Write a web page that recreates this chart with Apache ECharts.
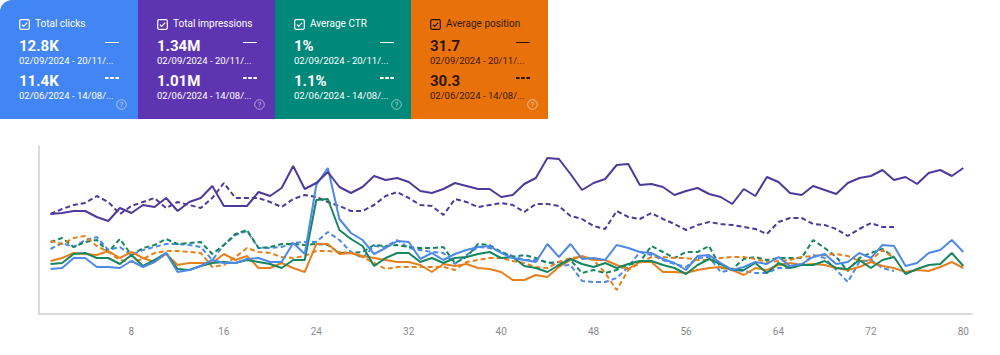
<!DOCTYPE html>
<html><head><meta charset="utf-8">
<script src="https://cdn.jsdelivr.net/npm/echarts@6/dist/echarts.min.js"></script>
<style>
html,body{margin:0;padding:0;width:1000px;height:355px;background:#fff;overflow:hidden;font-family:Roboto,"Noto Sans",sans-serif;}
#chart{position:absolute;left:0;top:0;width:1000px;height:355px;}
.card{position:absolute;top:0;height:119px;color:#fff;}
.card.dark{color:rgba(0,0,0,0.82);}
.card > *{position:absolute;white-space:nowrap;}
.cb{left:19px;top:19px;width:11px;height:11px;}
.lbl{left:35px;top:18px;font-size:10px;line-height:12px;}
.v{left:19px;font-size:15px;line-height:16px;font-weight:700;}
.v1{top:37.5px;} .v2{top:72.5px;}
.d{left:19px;font-size:9.5px;line-height:11px;}
.d1{top:55.2px;} .d2{top:90.2px;}
.sl{left:105px;top:41.5px;width:14px;height:1.8px;background:currentColor;}
.dl{left:105px;top:76.5px;width:14px;height:2px;}
.help{left:115.5px;top:98.5px;width:11px;height:11px;}
</style>
</head><body>
<div id="chart"></div>
<div id="cards"></div>
<script>
// ---- data ----
const cardTitles = ["Total clicks", "Total impressions", "Average CTR", "Average position"];
const cardCurrent = ["12.8K", "1.34M", "1%", "31.7"];
const cardPrevious = ["11.4K", "1.01M", "1.1%", "30.3"];
const currentRange = "02/09/2024 - 20/11/...";
const previousRange = "02/06/2024 - 14/08/...";
const xTickLabels = [8, 16, 24, 32, 40, 48, 56, 64, 72, 80];

// relative height of each metric line (index units), day 1..80 (current), day 1..74 (previous)
const clicksCurrent = [45,46,56,56,47,47,46,53,47,52,61,42,44,48,54,51,
  51,55,56,52,52,71,60,129,146,95,81,74,60,66,73,72,
  55,61,54,60,64,67,68,61,56,54,52,70,57,70,55,56,
  54,69,66,62,61,55,51,44,58,59,51,44,47,52,50,57,
  48,50,57,60,50,52,61,56,69,68,48,51,61,64,74,62];
const impressionsCurrent = [100,101,103,103,97,93,106,101,109,107,116,103,112,116,128,108,
  108,108,122,118,126,148,125,131,142,127,121,127,138,134,136,132,
  123,121,125,131,128,125,125,117,119,130,136,156,155,140,124,131,
  135,149,150,129,130,127,119,123,126,120,117,110,125,118,137,132,
  121,119,128,124,120,131,136,138,144,134,137,130,141,144,138,146];
const ctrCurrent = [50,51,60,61,56,56,50,59,48,54,61,45,44,48,51,52,
  51,54,52,50,46,54,54,114,115,84,75,68,48,56,61,61,
  52,56,51,56,57,60,62,56,57,48,46,42,49,55,50,47,
  51,46,50,53,53,49,46,40,49,55,50,44,44,51,41,51,
  46,49,49,53,46,45,54,46,54,57,40,45,49,50,61,48];
const positionCurrent = [53,56,61,60,59,63,56,62,56,52,60,49,51,51,51,60,
  54,58,46,46,51,46,42,70,70,60,61,58,56,54,52,52,
  49,42,50,48,50,46,45,42,34,34,39,37,47,54,58,54,
  54,49,45,52,52,42,42,41,44,46,47,44,39,46,44,49,
  51,49,50,49,46,44,47,52,48,46,42,44,43,47,52,46];
const clicksPrevious = [65,71,67,74,77,64,67,59,64,67,70,70,69,67,54,69,
  79,83,66,66,67,71,72,72,82,74,62,56,68,67,74,66,
  64,62,61,50,59,67,66,62,58,54,54,52,48,49,33,32,
  32,36,47,62,59,54,50,47,56,57,42,44,43,41,41,46,
  46,49,59,56,44,32,52,54,46,43];
const impressionsPrevious = [100,105,109,111,118,112,100,108,112,116,106,112,109,106,116,131,
  116,116,116,112,107,115,119,117,112,108,103,103,109,118,122,116,
  109,108,99,115,112,107,109,111,109,102,110,110,108,98,95,88,
  85,103,97,95,101,95,90,84,89,92,90,89,87,85,80,92,
  96,96,90,89,85,78,85,91,87,87];
const ctrPrevious = [72,76,67,72,74,62,75,59,66,69,75,70,71,72,60,69,
  80,84,66,67,70,70,69,70,69,61,61,62,69,68,69,67,
  66,66,67,51,57,70,69,62,57,59,56,51,52,54,41,44,
  41,44,49,52,68,62,56,62,62,68,46,45,55,57,54,56,
  56,56,74,66,57,43,56,61,65,57];
const positionPrevious = [73,70,76,78,68,62,54,52,55,61,63,63,62,61,47,49,
  57,66,62,61,57,56,58,63,63,62,61,57,51,45,47,47,
  47,47,47,44,52,54,56,56,53,51,47,46,52,56,57,54,
  41,24,44,51,57,57,56,56,54,54,56,57,57,55,52,53,
  54,57,58,59,60,58,53,54,64,56];

// ---- cards ----
const cardColors = ["#4285f4", "#5e35b1", "#00897b", "#e8710a"];
const cardLefts = [0, 138, 275, 411];
const cardWidths = [138, 137, 136, 137];
const cardsEl = document.getElementById('cards');
cardTitles.forEach((t, k) => {
  const c = document.createElement('div');
  c.className = 'card' + (k === 3 ? ' dark' : '');
  c.style.left = cardLefts[k] + 'px';
  c.style.width = cardWidths[k] + 'px';
  c.style.background = cardColors[k];
  if (k === 0) c.style.borderTopLeftRadius = '12px';
  c.innerHTML =
    '<svg class="cb" viewBox="0 0 11 11"><rect x="0.7" y="0.7" width="9.6" height="9.6" rx="1.2" fill="none" stroke="currentColor" stroke-width="1.2"/><path d="M2.9 5.6 L4.7 7.3 L8.2 3.6" fill="none" stroke="currentColor" stroke-width="1.2"/></svg>' +
    '<div class="lbl">' + t + '</div>' +
    '<div class="v v1">' + cardCurrent[k] + '</div>' +
    '<div class="d d1">' + currentRange + '</div>' +
    '<div class="sl"></div>' +
    '<svg class="dl" viewBox="0 0 14 2"><line x1="0" y1="1" x2="14" y2="1" stroke="currentColor" stroke-width="1.8" stroke-dasharray="3.6 1.6"/></svg>' +
    '<div class="v v2">' + cardPrevious[k] + '</div>' +
    '<div class="d d2">' + previousRange + '</div>' +
    '<svg class="help" viewBox="0 0 11 11"><circle cx="5.5" cy="5.5" r="4.8" fill="none" stroke="rgba(255,255,255,0.6)" stroke-width="0.9"/><text x="5.5" y="8.3" text-anchor="middle" font-size="7.5" fill="rgba(255,255,255,0.7)" font-family="Roboto">?</text></svg>';
  cardsEl.appendChild(c);
});

// ---- chart ----
const toPairs = arr => arr.map((v, i) => [i + 1, v]);
const lineColors = {blue: "#4f89e6", purple: "#4e3a9a", green: "#168560", orange: "#e5801f"};
function mk(name, arr, color, dashed) {
  return {
    name: name, type: 'line', data: toPairs(arr), showSymbol: false, symbol: 'none',
    lineStyle: {color: color, width: 2, type: dashed ? [5, 3] : 'solid'},
    z: dashed ? 2 : 3, animation: false
  };
}
const chart = echarts.init(document.getElementById('chart'), null, {renderer: 'svg'});
chart.setOption({
  animation: false,
  grid: {left: 39, right: 28, top: 146, bottom: 41},
  xAxis: {
    type: 'value', min: 0, max: 80.75, interval: 8,
    axisLine: {lineStyle: {color: '#cfcfcf', width: 1.5}},
    axisTick: {show: false}, splitLine: {show: false},
    axisLabel: {
      color: '#8a8a8a', fontSize: 10, margin: 12, fontFamily: 'Roboto',
      formatter: v => xTickLabels.indexOf(v) >= 0 ? String(v) : ''
    }
  },
  yAxis: {
    type: 'value', min: 0, max: 168,
    axisLine: {show: true, lineStyle: {color: '#cfcfcf', width: 1.5}},
    axisTick: {show: false}, axisLabel: {show: false}, splitLine: {show: false}
  },
  series: [
    mk('Total impressions (previous)', impressionsPrevious, lineColors.purple, true),
    mk('Total clicks (previous)', clicksPrevious, lineColors.blue, true),
    mk('Average CTR (previous)', ctrPrevious, lineColors.green, true),
    mk('Average position (previous)', positionPrevious, lineColors.orange, true),
    mk('Average position', positionCurrent, lineColors.orange, false),
    mk('Average CTR', ctrCurrent, lineColors.green, false),
    mk('Total clicks', clicksCurrent, lineColors.blue, false),
    mk('Total impressions', impressionsCurrent, lineColors.purple, false)
  ]
});
</script>
</body></html>
